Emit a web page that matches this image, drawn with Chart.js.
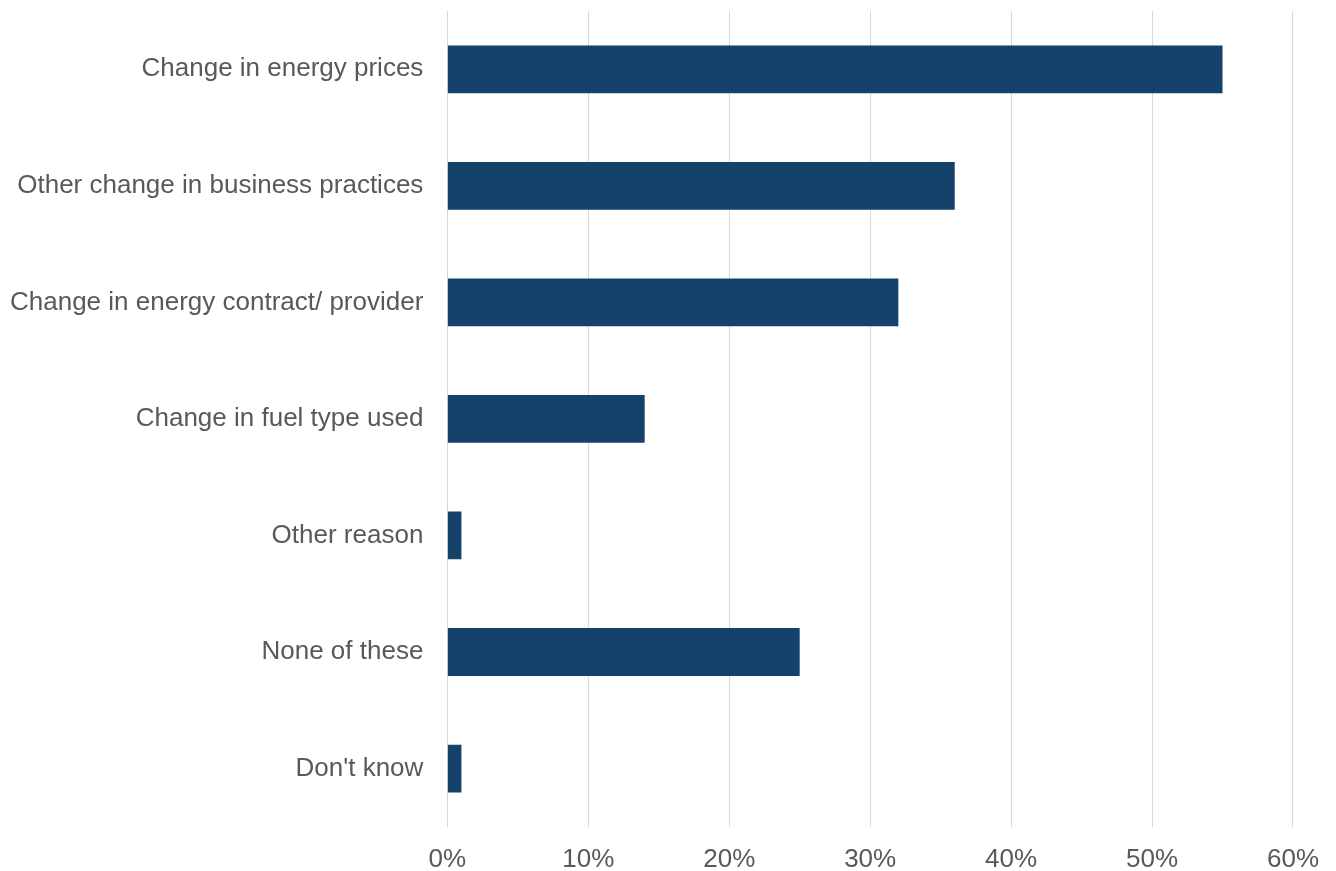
<!DOCTYPE html>
<html>
<head>
<meta charset="utf-8">
<script src="https://cdn.jsdelivr.net/npm/chart.js@4"></script>
<style>
  html, body { margin: 0; padding: 0; background: #ffffff; }
  #wrap { width: 1336px; height: 871px; }
</style>
</head>
<body>
<div id="wrap"><canvas id="reasonsChart"></canvas></div>
<script>
const reasonLabels = [
  "Change in energy prices",
  "Other change in business practices",
  "Change in energy contract/ provider",
  "Change in fuel type used",
  "Other reason",
  "None of these",
  "Don't know",
];

// Share of respondents, percent
const reasonShares = [55, 36, 32, 14, 1, 25, 1];

const axisTicks = [0, 10, 20, 30, 40, 50, 60];

const barColor = "#14426b";
const textColor = "#595959";
const gridColor = "#d9d9d9";
const labelFont = { family: "'Liberation Sans', Arial, sans-serif", size: 26 };

const buildReasonsChart = () => {
  const ctx = document.getElementById("reasonsChart");
  if (!ctx) {
    return;
  }

  new Chart(ctx, {
    type: "bar",
    data: {
      labels: reasonLabels,
      datasets: [
        {
          data: reasonShares,
          backgroundColor: barColor,
          borderWidth: 0,
          categoryPercentage: 1,
          barPercentage: 0.41,
        },
      ],
    },
    options: {
      indexAxis: "y",
      responsive: true,
      maintainAspectRatio: false,
      animation: false,
      layout: {
        padding: { top: 11, right: 39, bottom: -21, left: -14 },
      },
      plugins: {
        legend: { display: false },
        tooltip: { enabled: false },
      },
      scales: {
        x: {
          min: 0,
          max: 60,
          afterBuildTicks: (axis) => {
            axis.ticks = axisTicks.map((value) => ({ value }));
          },
          ticks: {
            color: textColor,
            font: labelFont,
            padding: 17,
            callback: (value) => `${value}%`,
          },
          grid: {
            color: gridColor,
            lineWidth: 1,
            drawTicks: false,
          },
          border: { display: false },
        },
        y: {
          // category labels sit mid-band, so no extra room is needed above or below
          afterFit: (axis) => {
            axis.paddingTop = 0;
            axis.paddingBottom = 0;
          },
          ticks: {
            color: textColor,
            font: labelFont,
            padding: 24,
          },
          grid: { display: false, drawTicks: false },
          border: { display: false },
        },
      },
    },
  });
};

document.addEventListener("DOMContentLoaded", buildReasonsChart);
</script>
</body>
</html>
